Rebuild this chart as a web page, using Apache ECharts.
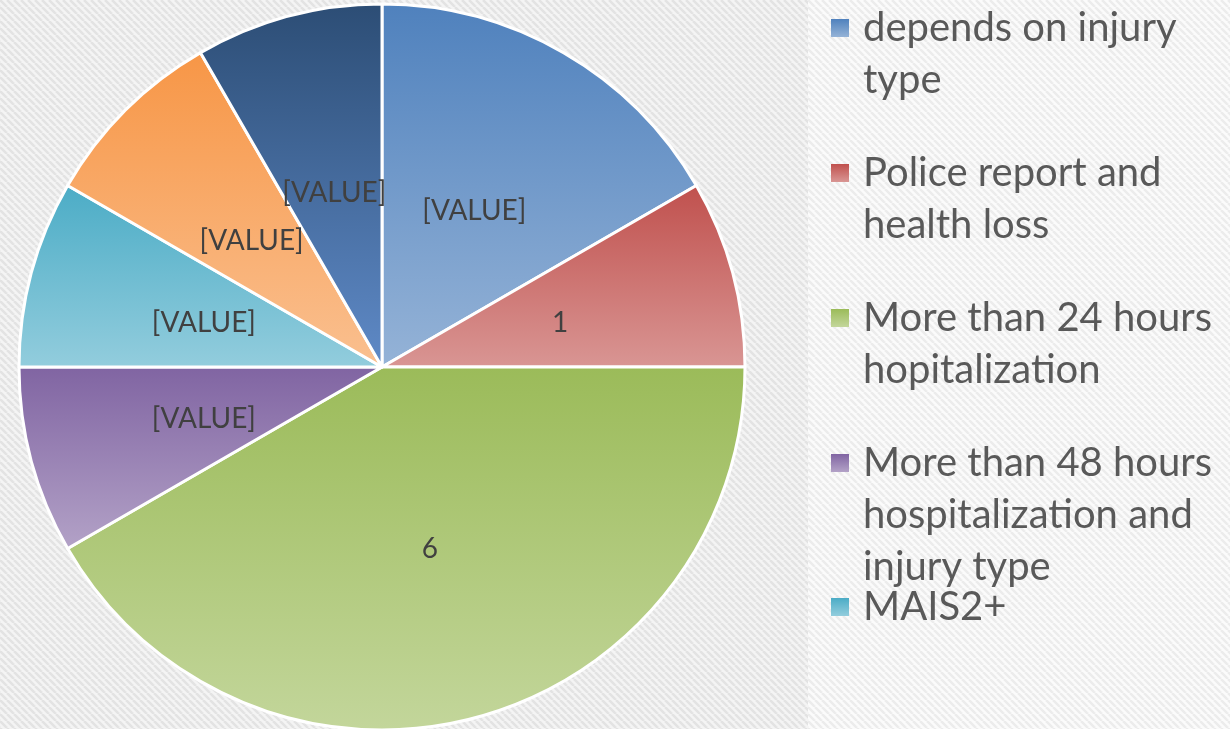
<!DOCTYPE html>
<html>
<head>
<meta charset="utf-8">
<script src="https://cdn.jsdelivr.net/npm/echarts@6/dist/echarts.min.js"></script>
<style>
html, body { margin: 0; padding: 0; background: #fff; }
#chart { width: 1230px; height: 729px; }
</style>
</head>
<body>
<div id="chart"></div>
<script>
// slice data (clockwise from 12 o'clock)
const categories = [
   'depends on injury type',
   'Police report and health loss',
   'More than 24 hours hopitalization',
   'More than 48 hours hospitalization and injury type',
   'MAIS2+',
   'Category 6',
   'Category 7'
];
const values = [2, 1, 5, 1, 1, 1, 1];
// data labels as they appear on the slices
const labels = ['[VALUE]', '1', '6', '[VALUE]', '[VALUE]', '[VALUE]', '[VALUE]'];

// legend only shows the first five entries (rest cut off)
const legendText = [
   'depends on injury\ntype',
   'Police report and\nhealth loss',
   'More than 24 hours\nhopitalization',
   'More than 48 hours\nhospitalization and\ninjury type',
   'MAIS2+'
];

const topColors    = ['#4F81BD', '#C0504D', '#9BBB59', '#8064A2', '#4BACC6', '#F79646', '#2C4D75'];
const bottomColors = ['#95B3D7', '#D99694', '#C3D69B', '#B3A2C7', '#93CDDD', '#FAC090', '#5F8AC7'];

const iconY = [28, 173, 318, 463, 607];
const LH = 52;


function makePattern(bg, fg)
{
   const c = document.createElement('canvas');
   c.width = 7; c.height = 7;
   const ctx = c.getContext('2d');
   ctx.fillStyle = bg;
   ctx.fillRect(0, 0, 7, 7);
   ctx.strokeStyle = fg;
   ctx.lineWidth = 2.5;
   for (const o of [-7, 0, 7])
   {
      ctx.beginPath();
      ctx.moveTo(o, 0);
      ctx.lineTo(o + 7, 7);
      ctx.stroke();
   }
   return c;
}

const chart = echarts.init(document.getElementById('chart'));

// one legend per entry so the icon sits beside the first line:
// blank lines in front keep the first text line centred on the icon
const legends = legendText.map((txt, i) =>
{
   const lines = txt.split('\n').length;
   const shown = '\n'.repeat(lines - 1) + txt;
   return {
      data: [categories[i]],
      orient: 'vertical',
      left: 831,
      top: iconY[i] - (2 * lines - 1) * LH / 2,
      padding: 0,
      icon: 'rect',
      itemWidth: 18,
      itemHeight: 18,
      selectedMode: false,
      itemStyle: { borderWidth: 0 },
      formatter: () => shown,
      textStyle:
      {
         fontFamily: 'Lato',
         fontSize: 40,
         color: '#595959',
         lineHeight: LH,
         padding: [0, 0, 0, 9]
      }
   };
});

const option =
{
   animation: false,
   graphic:
   [
      {
         type: 'rect', left: 0, top: 0, z: -10, silent: true,
         shape: { width: 808, height: 729 },
         style: { fill: { image: makePattern('#f4f4f4', '#e3e3e3'), repeat: 'repeat' } }
      },
      {
         type: 'rect', left: 808, top: 0, z: -10, silent: true,
         shape: { width: 422, height: 729 },
         style: { fill: { image: makePattern('#fbfbfb', '#ececec'), repeat: 'repeat' } }
      }
   ],
   legend: legends,
   series:
   [{
      type: 'pie',
      center: [382, 367],
      radius: 363,
      startAngle: 90,
      clockwise: true,
      avoidLabelOverlap: false,
      itemStyle: { borderColor: '#ffffff', borderWidth: 3 },
      label:
      {
         position: 'inside',
         formatter: p => labels[p.dataIndex],
         fontFamily: 'Lato',
         fontSize: 28,
         color: '#404040',
         offset: [0, 4]
      },
      labelLine: { show: false },
      emphasis: { disabled: true },
      data: categories.map((name, i) => ({
         name: name,
         value: values[i],
         itemStyle:
         {
            color: new echarts.graphic.LinearGradient(0, 0, 0, 1,
            [
               { offset: 0, color: topColors[i] },
               { offset: 1, color: bottomColors[i] }
            ])
         }
      }))
   }]
};

chart.setOption(option);
</script>
</body>
</html>
